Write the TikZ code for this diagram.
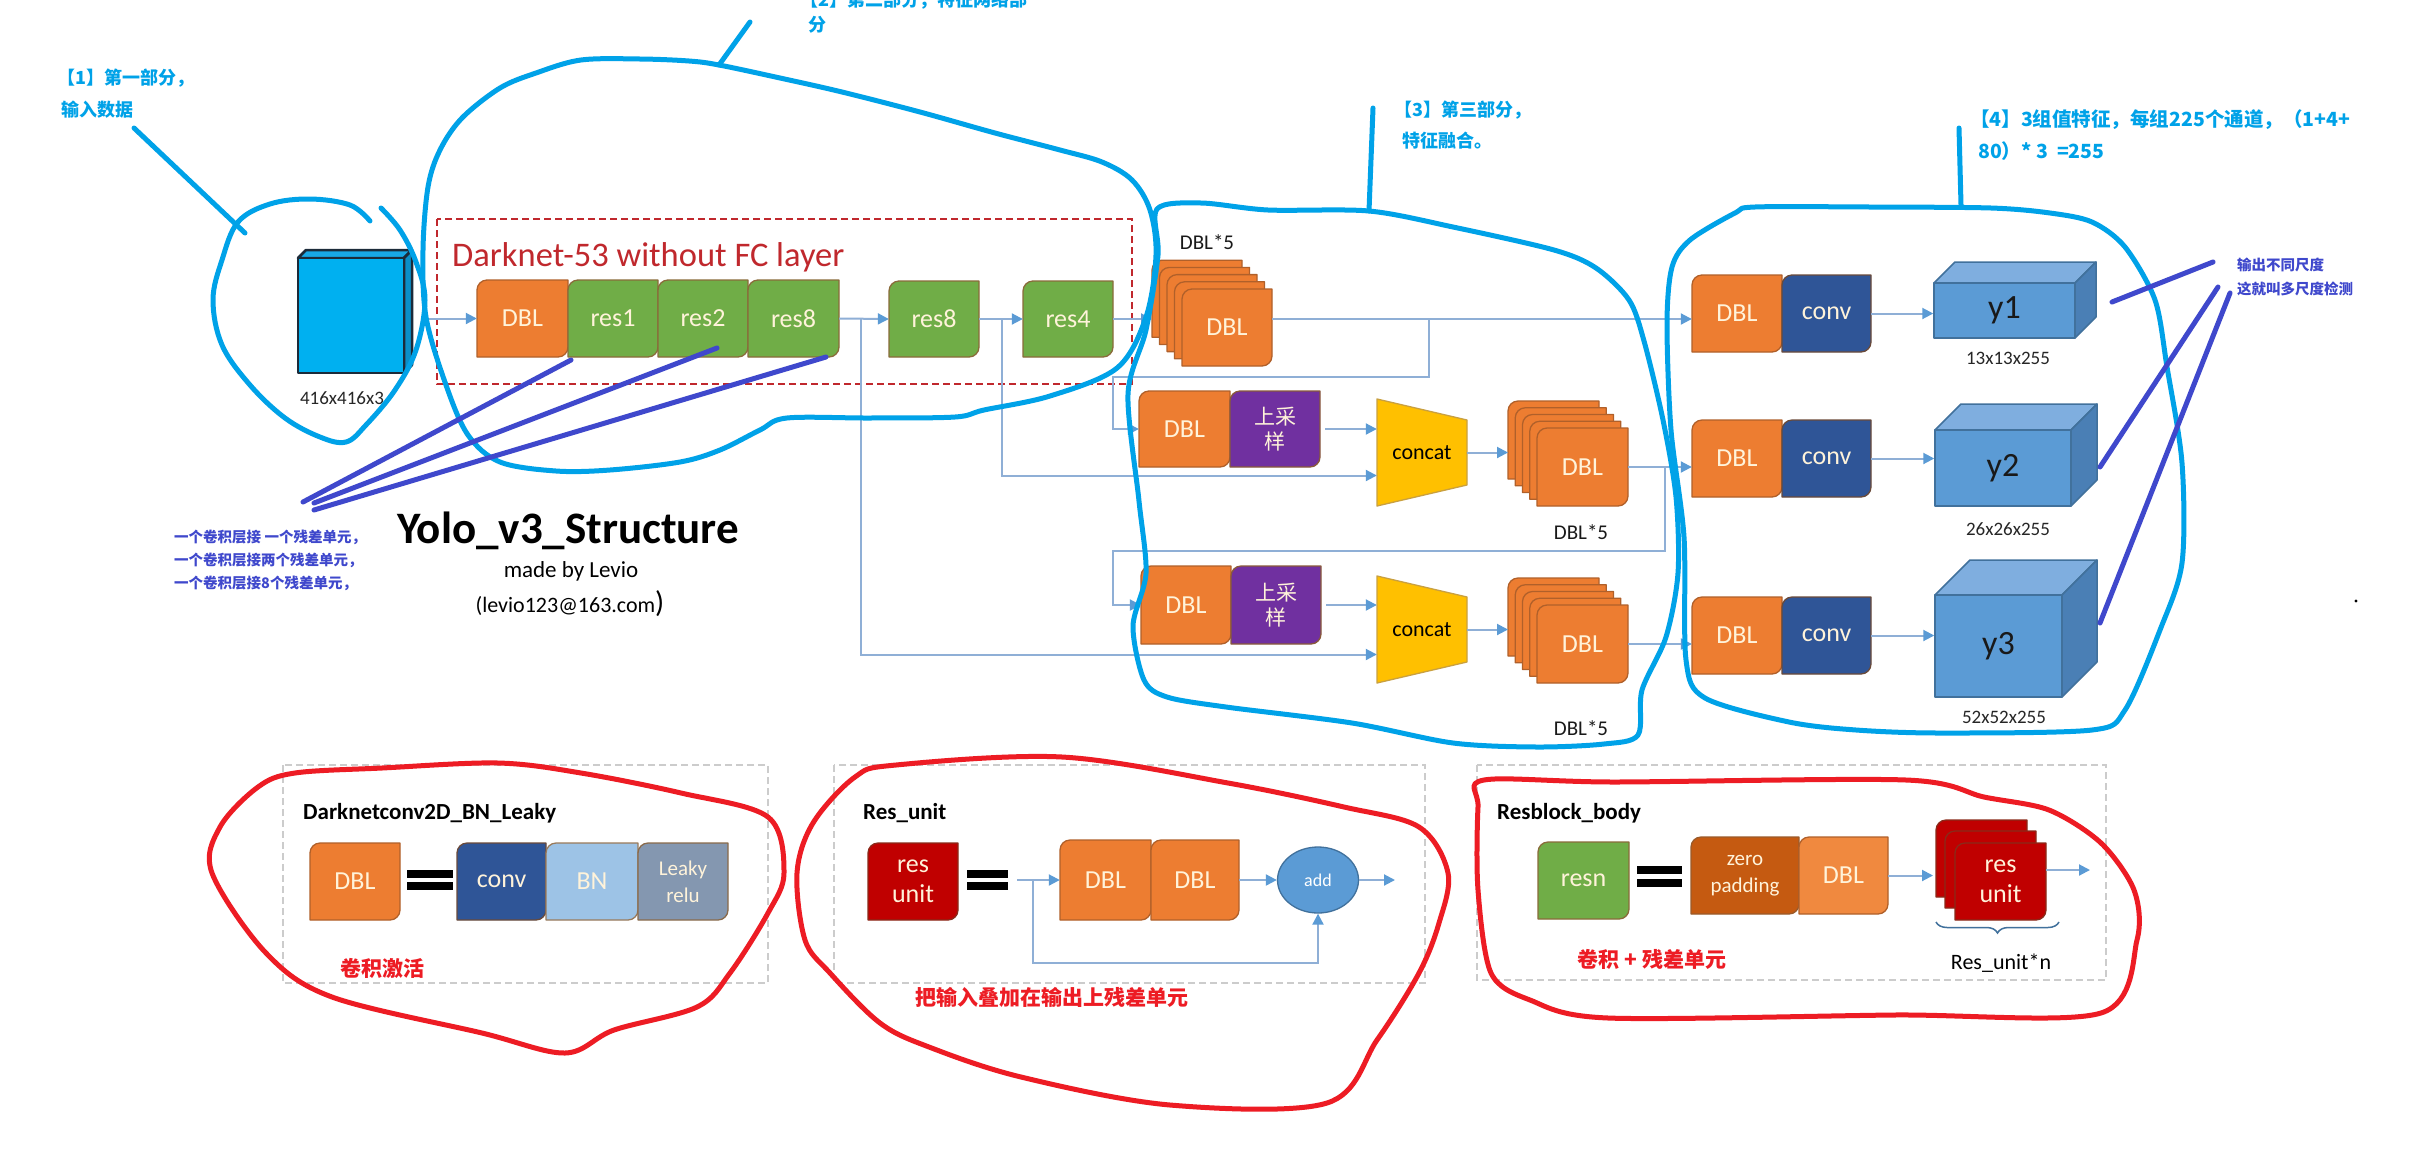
\documentclass[tikz,border=0pt]{standalone}
\usepackage{fontspec}
\setmainfont{Carlito}
\newfontfamily\cjk{Noto Sans CJK SC}
\usetikzlibrary{arrows.meta,decorations.pathreplacing,calc,shapes.geometric}

\definecolor{cOr}{HTML}{ED7D31}\definecolor{cOrD}{HTML}{B0602A}
\definecolor{cOr2}{HTML}{F0893F}
\definecolor{cGr}{HTML}{70AD47}\definecolor{cGrD}{HTML}{8A6B3A}
\definecolor{cPu}{HTML}{7030A0}\definecolor{cPuD}{HTML}{8A5A3A}
\definecolor{cCv}{HTML}{2F5597}\definecolor{cCvD}{HTML}{6A4A3A}
\definecolor{cBN}{HTML}{9DC3E6}\definecolor{cBND}{HTML}{9A7A5A}
\definecolor{cLk}{HTML}{8497B0}\definecolor{cLkD}{HTML}{8A6A4A}
\definecolor{cRd}{HTML}{C00000}\definecolor{cRdD}{HTML}{8A2A1A}
\definecolor{cZp}{HTML}{C55A11}\definecolor{cZpD}{HTML}{9A5A2A}
\definecolor{cYe}{HTML}{FFC000}\definecolor{cYeD}{HTML}{C9A040}
\definecolor{cLine}{HTML}{8FAFD6}\definecolor{cTip}{HTML}{5B9BD5}
\definecolor{cTxt}{HTML}{FFF3DA}
\definecolor{cbF}{HTML}{5B9BD5}\definecolor{cbT}{HTML}{7FAEDF}\definecolor{cbS}{HTML}{4A7FB5}\definecolor{cbD}{HTML}{41719C}
\definecolor{ciF}{HTML}{00B0F0}\definecolor{ciT}{HTML}{18A8E6}\definecolor{ciS}{HTML}{0A8FC8}\definecolor{ciD}{HTML}{1C2B3A}
\definecolor{annB}{HTML}{00A2E8}\definecolor{annP}{HTML}{3F48CC}\definecolor{annR}{HTML}{ED1C24}
\definecolor{dkred}{HTML}{C0282D}

\newcommand\fs[2]{\fontsize{#1}{#2}\selectfont}
% leaf-shaped box: x1 y1 x2 y2 style
\newcommand\leafshape[5]{%
  \path[shp,#5] (#1,#4) -- (#1,{#2+10}) .. controls (#1,{#2+4.5}) and ({#1+4.5},#2) .. ({#1+10},#2) -- (#3,#2) -- (#3,{#4-10}) .. controls (#3,{#4-4.5}) and ({#3-4.5},#4) .. ({#3-10},#4) -- cycle;}
% name x1 y1 x2 y2 style nodeopts text
\newcommand\leaf[8]{%
  \leafshape{#2}{#3}{#4}{#5}{#6}%
  \node[boxtxt, minimum width={(#4-#2)*1pt}, minimum height={(#5-#3)*1pt}, #7] (#1) at ({(#2+#4)/2},{(#3+#5)/2}) {#8};}
% stack of five: name x1 y1 x2 y2 dx dy text
\newcommand\stack[8]{%
  \foreach \k in {4,3,2,1}{\leafshape{#2-\k*#6}{#3-\k*#7}{#4-\k*#6}{#5-\k*#7}{sOr}}%
  \leaf{#1}{#2}{#3}{#4}{#5}{sOr}{}{#8}%
  \coordinate (#1in) at ({#2-4*#6},{(#3+#5)/2});}
% cube: name x1 y1 x2 y2 depth prefix nodeopts text
\newcommand\cube[9]{%
  \path[#7sty, fill=#7T] (#2,#3) -- ({#2+#6},{#3-#6}) -- ({#4+#6},{#3-#6}) -- (#4,#3) -- cycle;
  \path[#7sty, fill=#7S] (#4,#3) -- ({#4+#6},{#3-#6}) -- ({#4+#6},{#5-#6}) -- (#4,#5) -- cycle;
  \node[#7sty, fill=#7F, inner sep=0pt, minimum width={(#4-#2)*1pt}, minimum height={(#5-#3)*1pt}, #8] (#1) at ({(#2+#4)/2},{(#3+#5)/2}) {#9};}
% concat trapezoid: name x1 ytop ybottom
\newcommand\concat[4]{%
  \path[shp, fill=cYe, draw=cYeD] (#2,#3) -- ({#2+90},{#3+21}) -- ({#2+90},{#4-21}) -- (#2,#4) -- cycle;
  \node[inner sep=0pt, minimum width=90pt, minimum height={(#4-#3)*1pt}, font=\fs{22}{26}, text=black] (#1) at ({#2+45},{(#3+#4)/2}) {concat};}

\begin{document}
\begin{tikzpicture}[x=1pt,y=-1pt,
  shp/.style={line width=1.3pt, line join=round},
  sOr/.style={fill=cOr, draw=cOrD}, sOr2/.style={fill=cOr2, draw=cOrD},
  sGr/.style={fill=cGr, draw=cGrD}, sPu/.style={fill=cPu, draw=cPuD},
  sCv/.style={fill=cCv, draw=cCvD}, sBN/.style={fill=cBN, draw=cBND},
  sLk/.style={fill=cLk, draw=cLkD}, sRd/.style={fill=cRd, draw=cRdD},
  sZp/.style={fill=cZp, draw=cZpD},
  boxtxt/.style={inner sep=0pt, text=cTxt, font=\fs{26}{30}, align=center},
  cbsty/.style={draw=cbD, line width=1.5pt, line join=round},
  cisty/.style={draw=ciD, line width=2.5pt, line join=round},
  lbl/.style={font=\fs{19}{22}, text=black!85, inner sep=0pt},
  lbl2/.style={font=\fs{21}{24}, text=black!90, inner sep=0pt},
  conn/.style={draw=cLine, line width=2pt},
  arr/.style={conn, -{Triangle[length=11pt,width=11pt,color=cTip]}},
  gbox/.style={draw=black!20, line width=2pt, dash pattern=on 7pt off 4pt},
  ttl/.style={anchor=west, font=\bfseries\fs{23}{26}, inner sep=0pt},
  redtxt/.style={text=annR, font=\cjk\bfseries\fs{21}{25}, inner sep=0pt},
  annb/.style={anchor=west, text=annB, font=\cjk\bfseries\fs{18}{22}, inner sep=0pt},
  annp/.style={anchor=west, text=annP, font=\cjk\bfseries\fs{14.5}{18}, inner sep=0pt},
  hb/.style={draw=annB, line width=5pt, line cap=round, line join=round},
  hp/.style={draw=annP, line width=5pt, line cap=round},
  hr/.style={draw=annR, line width=5pt, line cap=round, line join=round}]
\useasboundingbox[fill=white] (0,0) rectangle (2418,1149);

% ---------------- input
\cube{inp}{298}{258}{404}{373}{8}{ci}{}{}
\node[lbl] (inplbl) at (342,398) {416x416x3};

% ---------------- darknet
\draw[dkred, line width=2.5pt, dash pattern=on 7pt off 4pt] (437,219) rectangle (1132,384);
\node[anchor=base west, text=dkred, font=\fs{34.5}{38}, inner sep=0pt] (dktitle) at (452,266) {Darknet-53 without FC layer};
\leaf{d0}{477}{280}{568}{357}{sOr}{}{DBL}
\leaf{r1}{568}{280}{658}{357}{sGr}{}{res1}
\leaf{r2}{658}{280}{748}{357}{sGr}{}{res2}
\leaf{r8a}{748}{280}{839}{357}{sGr}{}{res8}
\leaf{r8b}{889}{281}{979}{357}{sGr}{}{res8}
\leaf{r4}{1023}{281}{1113}{357}{sGr}{}{res4}

% ---------------- fusion
\node[lbl2] (s1lbl) at (1207,242) {DBL*5};
\stack{s1}{1182}{289}{1272}{366}{7.5}{7.2}{DBL}
\stack{s2}{1537}{428}{1628}{506}{7.25}{6.75}{DBL}
\stack{s3}{1537}{605}{1628}{683}{7.25}{6.75}{DBL}
\node[lbl2] (s2lbl) at (1581,532) {DBL*5};
\node[lbl2] (s3lbl) at (1581,728) {DBL*5};
\leaf{d2}{1139}{391}{1230}{467}{sOr}{}{DBL}
\leaf{u2}{1230}{391}{1320}{467}{sPu}{font=\cjk\fs{21}{25}}{上采\\样}
\concat{cc2}{1377}{399}{506}
\leaf{d3}{1141}{566}{1231}{644}{sOr}{}{DBL}
\leaf{u3}{1231}{566}{1321}{644}{sPu}{font=\cjk\fs{21}{25}}{上采\\样}
\concat{cc3}{1377}{576}{683}

% ---------------- outputs
\leaf{o1d}{1692}{275}{1782}{352}{sOr}{}{DBL}
\leaf{o1c}{1782}{275}{1871}{352}{sCv}{}{conv}
\leaf{o2d}{1692}{420}{1782}{497}{sOr}{}{DBL}
\leaf{o2c}{1782}{420}{1871}{497}{sCv}{}{conv}
\leaf{o3d}{1692}{597}{1782}{674}{sOr}{}{DBL}
\leaf{o3c}{1782}{597}{1871}{674}{sCv}{}{conv}
\cube{y1}{1934}{283}{2075}{338}{21}{cb}{font=\fs{34}{36}, text=black!90}{y1}
\cube{y2}{1935}{430}{2071}{506}{26}{cb}{font=\fs{34}{36}, text=black!90}{y2}
\cube{y3}{1935}{595}{2062}{697}{35}{cb}{font=\fs{34}{36}, text=black!90}{y3}
\node[lbl] (y1lbl) at (2008,358) {13x13x255};
\node[lbl] (y2lbl) at (2008,529) {26x26x255};
\node[lbl] (y3lbl) at (2004,717) {52x52x255};

% ---------------- connectors
\draw[arr, shorten <=19pt] (d0.west -| inp.east) -- (d0.west);
\draw[arr] (r8a.east) -- (r8b.west);
\draw[arr] (r8b.east) -- (r4.west);
\draw[arr] (r4.east) -- (r4.east -| s1in);
\coordinate (c1) at ($(r8a.east)!0.44!(r8b.west)$);
\coordinate (c2) at ($(r8b.east)!0.52!(r4.west)$);
\draw[arr] (c1) |- ($(cc3.west)+(0,25)$);
\draw[arr] (c2) |- ($(cc2.west)+(0,23)$);
\draw[arr] (s1.east |- r4.east) -- (o1d.west |- r4.east);
\coordinate (b1) at ($(s1.east |- r4.east)+(157,0)$);
\draw[arr] (b1) -- ++(0,58) -| ($(d2.west)+(-26,0)$) -- (d2.west);
\draw[arr, shorten <=5pt] (u2.east) -- (cc2.west |- u2.east);
\draw[arr] (cc2.east) -- (cc2.east -| s2in);
\draw[arr] (s2.east) -- (s2.east -| o2d.west);
\coordinate (b2) at ($(s2.east)+(37,0)$);
\draw[arr] (b2) -- ++(0,84) -| ($(d3.west)+(-28,0)$) -- (d3.west);
\draw[arr, shorten <=5pt] (u3.east) -- (cc3.west |- u3.east);
\draw[arr] (cc3.east) -- (cc3.east -| s3in);
\draw[arr] (s3.east) -- (s3.east -| o3d.west);
\draw[arr] (o1c.east) -- (o1c.east -| y1.west);
\draw[arr] (o2c.east) -- (o2c.east -| y2.west);
\draw[arr] (o3c.east) -- (o3c.east -| y3.west);

% ---------------- title
\node[anchor=base, font=\bfseries\fs{45}{48}, inner sep=0pt] (title) at (568,543) {Yolo\_v3\_Structure};
\node[anchor=base, font=\fs{23}{26}, inner sep=0pt] (made) at (571,577) {made by Levio};
\node[anchor=base, font=\fs{22}{26}, inner sep=0pt] (mail) at (570,612) {(levio123@163.com{\fs{30}{30})}};

% ---------------- legend 1
\draw[gbox] (283,765) rectangle (768,983);
\node[ttl] (t1) at (303,813) {Darknetconv2D\_BN\_Leaky};
\leaf{bd}{310}{843}{400}{920}{sOr}{}{DBL}
\fill (407,870) rectangle (453,878); \fill (407,882) rectangle (453,890);
\leaf{bc}{457}{843}{546}{920}{sCv}{}{conv}
\leaf{bb}{546}{843}{638}{920}{sBN}{}{BN}
\leaf{bl}{638}{843}{728}{920}{sLk}{font=\fs{21}{27}}{Leaky\\relu}
\node[redtxt] (n1) at (382,968) {卷积激活};

% ---------------- legend 2
\draw[gbox] (834,765) rectangle (1425,983);
\node[ttl] (t2) at (863,813) {Res\_unit};
\leaf{ru}{868}{843}{958}{920}{sRd}{font=\fs{26}{30}}{res\\unit}
\fill (967,870) rectangle (1008,878); \fill (967,882) rectangle (1008,890);
\leaf{rd1}{1060}{840}{1151}{920}{sOr}{}{DBL}
\leaf{rd2}{1151}{840}{1239}{920}{sOr}{}{DBL}
\node[ellipse, draw=cbD, line width=1.3pt, fill=cTip, minimum width=81pt, minimum height=66pt, inner sep=0pt, text=white, font=\fs{18}{20}] (add) at (1318,880) {add};
\coordinate (ruin) at (1017,880);
\coordinate (ruloop) at (1033,880);
\coordinate (ruout) at (1395,880);
\draw[arr] (ruin) -- (rd1.west);
\draw[arr] (rd2.east) -- (add.west);
\draw[arr] (add.east) -- (ruout);
\draw[arr] (ruloop) -- ++(0,83) -| (add.south);
\node[redtxt] (n2) at (1052,997) {把输入叠加在输出上残差单元};

% ---------------- legend 3
\draw[gbox] (1477,765) rectangle (2106,980);
\node[ttl] (t3) at (1497,813) {Resblock\_body};
\leaf{rn}{1538}{842}{1629}{919}{sGr}{}{resn}
\fill (1637,866) rectangle (1682,874); \fill (1637,879) rectangle (1682,887);
\leaf{zp}{1691}{837}{1799}{914}{sZp}{font=\fs{21}{27}}{zero\\padding}
\leaf{rbd}{1799}{837}{1888}{914}{sOr2}{}{DBL}
\leafshape{1936}{820}{2027}{897}{sRd}
\leafshape{1945}{831}{2036}{908}{sRd}
\leaf{rs}{1955}{843}{2046}{920}{sRd}{font=\fs{26}{30}}{res\\unit}
\coordinate (rsin) at (1933,875);
\coordinate (rsout) at (2090,870);
\draw[arr] (rbd.east) -- (rbd.east -| rsin);
\draw[arr] (rs.east |- rsout) -- (rsout);
\coordinate (br1) at (1936,922);
\coordinate (br2) at (2059,922);
\draw[draw=cbD, line width=1.5pt, decorate, decoration={brace, mirror, amplitude=11pt}] (br1) -- (br2);
\node[font=\fs{22}{25}, inner sep=0pt] (rl) at (2001,963) {Res\_unit*n};
\node[redtxt] (n3) at (1652,959) {卷积 + 残差单元};

% ---------------- blue annotations
\draw[hb] plot[smooth, tension=0.6] coordinates {(370,221) (350,205) (310,199) (270,204) (238,222) (222,260) (213,300) (222,345) (250,385) (285,418) (320,437) (346,442) (366,425) (395,390) (416,350) (425,300) (416,262) (400,230) (381,208)};
\draw[hb] (134,128) -- (245,233);
\draw[hb] plot[smooth cycle, tension=0.55] coordinates {(428,187) (440,150) (462,118) (500,88) (536,73) (581,60) (640,59) (689,61) (719,65) (780,78) (842,92) (920,112) (995,133) (1060,150) (1102,162) (1132,180) (1150,210) (1156,255) (1146,317) (1117,368) (1050,396) (984,410) (955,417) (870,418) (787,418) (760,430) (720,450) (680,462) (610,470) (556,471) (500,462) (468,435) (446,385) (426,317) (423,250)};
\draw[hb] (719,65) -- (750,22);
\draw[hb] plot[smooth cycle, tension=0.5] coordinates {(1157,209) (1201,203) (1268,210) (1369,211) (1453,227) (1554,250) (1596,268) (1629,300) (1644,341) (1663,420) (1676,497) (1678,573) (1666,637) (1642,690) (1638,735) (1604,744) (1537,747) (1453,743) (1352,723) (1226,707) (1167,697) (1144,680) (1133,626) (1146,573) (1139,501) (1128,394) (1146,330) (1158,255)};
\draw[hb] (1369,211) -- (1373,108);
\draw[hb] plot[smooth cycle, tension=0.5] coordinates {(1755,207) (1870,207) (1991,208) (2050,213) (2092,222) (2125,247) (2155,300) (2167,367) (2182,463) (2182,563) (2160,630) (2125,710) (2092,730) (1940,733) (1856,730) (1789,722) (1705,698) (1686,660) (1684,537) (1671,430) (1667,323) (1672,267) (1690,240) (1735,213)};
\draw[hb] (1959,128) -- (1961,205);
\node[annb] (a1a) at (57,78) {【1】第一部分，};
\node[annb] (a1b) at (61,110) {输入数据};
\node[annb] (a2a) at (800,0) {【2】第二部分，特征网络部};
\node[annb] (a2b) at (808,25) {分};
\node[annb] (a3a) at (1394,110) {【3】第三部分，};
\node[annb] (a3b) at (1402,141) {特征融合。};
\node[annb, font=\cjk\bfseries\fs{19.5}{22}] (a4a) at (1970,120) {【4】3组值特征，每组225个通道，（1+4+};
\node[annb, font=\cjk\bfseries\fs{19.5}{22}] (a4b) at (1978,151) {80）* 3 \ =255};

% ---------------- purple annotations
\draw[hp] (571,360) -- (303,502);
\draw[hp] (717,348) -- (314,503);
\draw[hp] (826,357) -- (314,510);
\draw[hp] (2112,302) -- (2213,262);
\draw[hp] (2218,287) -- (2100,467);
\draw[hp] (2230,293) -- (2100,623);
\node[annp] (p1) at (174,537) {一个卷积层接 一个残差单元，};
\node[annp] (p2) at (174,560) {一个卷积层接两个残差单元，};
\node[annp] (p3) at (174,583) {一个卷积层接8个残差单元，};
\node[annp] (p4) at (2237,265) {输出不同尺度};
\node[annp] (p5) at (2237,289) {这就叫多尺度检测};

% ---------------- red annotations
\draw[hr] plot[smooth cycle, tension=0.55] coordinates {(382,768) (498,763) (581,773) (681,793) (768,817) (784,873) (768,913) (730,973) (697,1007) (614,1030) (565,1053) (482,1033) (332,997) (266,953) (212,873) (220,827) (258,787) (295,773)};
\draw[hr] plot[smooth cycle, tension=0.55] coordinates {(896,765) (1062,757) (1228,783) (1344,807) (1419,827) (1448,873) (1439,923) (1419,973) (1377,1040) (1327,1103) (1170,1105) (1021,1077) (929,1047) (880,1023) (830,973) (805,940) (797,873) (813,823) (855,777)};
\draw[hr] plot[smooth cycle, tension=0.5] coordinates {(1484,780) (1614,782) (1906,780) (1984,797) (2049,810) (2101,843) (2134,890) (2137,940) (2101,1013) (1894,1015) (1608,1018) (1530,1000) (1491,973) (1478,890) (1478,807)};

\coordinate (dot) at (2356,601);
\fill (dot) circle (1.6);
\end{tikzpicture}
\end{document}
